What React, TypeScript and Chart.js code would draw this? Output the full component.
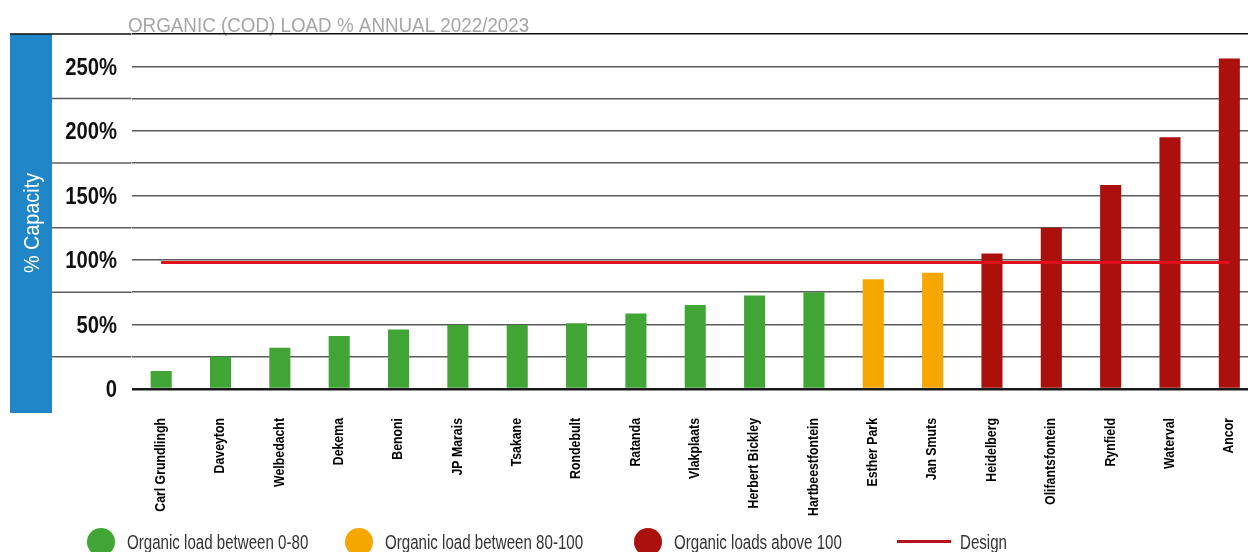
import React, { useEffect, useRef } from "react";
import { Chart, registerables } from "chart.js";

Chart.register(...registerables);

const TITLE = "ORGANIC (COD) LOAD % ANNUAL 2022/2023";
const AXIS_TITLE = "% Capacity";

const CATEGORIES = [
  "Carl Grundlingh",
  "Daveyton",
  "Welbedacht",
  "Dekema",
  "Benoni",
  "JP Marais",
  "Tsakane",
  "Rondebult",
  "Ratanda",
  "Vlakplaats",
  "Herbert Bickley",
  "Hartbeestfontein",
  "Esther Park",
  "Jan Smuts",
  "Heidelberg",
  "Olifantsfontein",
  "Rynfield",
  "Waterval",
  "Ancor",
];

const LOAD_PERCENT = [14, 25, 32, 41, 46, 49.5, 49.5, 51, 58.5, 65, 72.5, 75, 85, 90, 105, 125, 158, 195, 256];

const DESIGN_PERCENT = [98, 98, 98, 98, 98, 98, 98, 98, 98, 98, 98, 98, 98, 98, 98, 98, 98, 98, 98];

const Y_MIN = 0;
const Y_MAX = 275;
const Y_STEP = 25;
const Y_LABELLED = [0, 50, 100, 150, 200, 250];

const LEGEND_LABELS = [
  "Organic load between 0-80",
  "Organic load between 80-100",
  "Organic loads above 100",
  "Design",
];

const GREEN = "#40a535";
const ORANGE = "#f5a700";
const RED = "#ab100c";
const DESIGN_RED = "#e0101c";
const BLUE = "#2186c8";

const FONT = "'Liberation Sans', Arial, 'Helvetica', sans-serif";

function barColor(v: number): string {
  if (v > 100) return RED;
  if (v >= 80) return ORANGE;
  return GREEN;
}

function squeezedText(
  ctx: CanvasRenderingContext2D,
  text: string,
  x: number,
  y: number,
  sx: number,
  align: CanvasTextAlign,
  rotate = 0
) {
  ctx.save();
  ctx.translate(x, y);
  if (rotate) ctx.rotate(rotate);
  ctx.scale(sx, 1);
  ctx.textAlign = align;
  ctx.fillText(text, 0, 0);
  ctx.restore();
}

const decorPlugin = {
  id: "decor",
  beforeDraw(chart: any) {
    const { ctx, chartArea } = chart;
    const y = chart.scales.y;
    ctx.save();
    // blue side box
    const top = y.getPixelForValue(Y_MAX);
    const bottom = chartArea.bottom + 24;
    ctx.fillStyle = BLUE;
    ctx.fillRect(10, top, 42, bottom - top);
    // axis title in box
    ctx.fillStyle = "#ffffff";
    ctx.font = `22px ${FONT}`;
    ctx.textBaseline = "middle";
    squeezedText(ctx, AXIS_TITLE, 33, 223, 0.9, "center", -Math.PI / 2);

    // gridline extensions to the left
    for (let v = Y_MIN + Y_STEP; v <= Y_MAX; v += Y_STEP) {
      if (Y_LABELLED.includes(v)) continue;
      const py = y.getPixelForValue(v);
      ctx.beginPath();
      ctx.strokeStyle = v === Y_MAX ? "#111111" : "#5c5c5c";
      ctx.lineWidth = 1.5;
      ctx.moveTo(v === Y_MAX ? 10 : 52, py);
      ctx.lineTo(chartArea.left, py);
      ctx.stroke();
    }
    // title
    ctx.fillStyle = "#a6a6a6";
    ctx.font = `20px ${FONT}`;
    ctx.textBaseline = "alphabetic";
    squeezedText(ctx, TITLE, 128, 32, 0.94, "left");
    ctx.restore();
  },
  afterDraw(chart: any) {
    const { ctx, chartArea } = chart;
    const x = chart.scales.x;
    const y = chart.scales.y;
    ctx.save();
    // y tick labels
    ctx.fillStyle = "#111111";
    ctx.font = `bold 23px ${FONT}`;
    ctx.textBaseline = "alphabetic";
    Y_LABELLED.forEach((v) => {
      const py = y.getPixelForValue(v);
      squeezedText(ctx, v === 0 ? "0" : `${v}%`, 117, py + 8.3, 0.88, "right");
    });
    // x category labels, rotated
    ctx.fillStyle = "#000000";
    ctx.font = `bold 14px ${FONT}`;
    ctx.textBaseline = "middle";
    CATEGORIES.forEach((label, i) => {
      const px = x.getPixelForValue(i);
      squeezedText(ctx, label, px, chartArea.bottom + 29, 0.88, "right", -Math.PI / 2);
    });
    ctx.restore();
  },
};

function App() {
  const canvasRef = useRef<HTMLCanvasElement | null>(null);

  useEffect(() => {
    const canvas = canvasRef.current;
    if (!canvas) return;
    const chart = new Chart(canvas, {
      type: "bar",
      data: {
        labels: CATEGORIES,
        datasets: [
          {
            type: "line",
            label: LEGEND_LABELS[3],
            data: DESIGN_PERCENT,
            borderColor: DESIGN_RED,
            borderWidth: 3,
            pointRadius: 0,
            pointHoverRadius: 0,
            fill: false,
            order: 0,
          } as any,
          {
            type: "bar",
            label: "Organic load",
            data: LOAD_PERCENT,
            backgroundColor: (c: any) => barColor(c.raw as number),
            barPercentage: 0.355,
            categoryPercentage: 1,
            order: 1,
          },
        ],
      },
      options: {
        responsive: false,
        animation: false,
        devicePixelRatio: 1,
        layout: { padding: { top: 34, right: 11, left: 0, bottom: 0 } },
        plugins: {
          legend: { display: false },
          title: { display: false },
          tooltip: { enabled: false },
        },
        scales: {
          x: {
            grid: { display: false },
            border: { display: false },
            ticks: { display: false, autoSkip: false },
            afterFit: (scale: any) => {
              scale.height = 163;
            },
          },
          y: {
            min: Y_MIN,
            max: Y_MAX,
            border: { display: false },
            grid: {
              drawTicks: false,
              color: (c: any) => {
                const v = c.tick ? c.tick.value : 0;
                if (v === 0) return "#1a1a1a";
                if (v === Y_MAX) return "#111111";
                return "#5c5c5c";
              },
              lineWidth: (c: any) => {
                const v = c.tick ? c.tick.value : 0;
                return v === 0 ? 2.5 : 1.5;
              },
            },
            ticks: { display: false, stepSize: Y_STEP },
            afterFit: (scale: any) => {
              scale.width = 131.5;
            },
          },
        },
      },
      plugins: [decorPlugin],
    });
    return () => chart.destroy();
  }, []);

  const legendText: React.CSSProperties = {
    position: "absolute",
    top: 531,
    fontFamily: FONT,
    fontSize: 20,
    color: "#333333",
    lineHeight: "22px",
    whiteSpace: "nowrap",
    transform: "scaleX(0.755)",
    transformOrigin: "left center",
  };
  const dot = (color: string, left: number): React.CSSProperties => ({
    position: "absolute",
    left,
    top: 528,
    width: 28,
    height: 28,
    borderRadius: "50%",
    background: color,
  });

  return (
    <div
      style={{
        position: "absolute",
        left: 0,
        top: 0,
        width: 1248,
        height: 552,
        overflow: "hidden",
        background: "#ffffff",
      }}
    >
      <canvas ref={canvasRef} width={1270} height={552} style={{ display: "block" }} />
      <div style={dot(GREEN, 87)} />
      <div style={{ ...legendText, left: 127 }}>{LEGEND_LABELS[0]}</div>
      <div style={dot(ORANGE, 345)} />
      <div style={{ ...legendText, left: 385 }}>{LEGEND_LABELS[1]}</div>
      <div style={dot(RED, 634)} />
      <div style={{ ...legendText, left: 674 }}>{LEGEND_LABELS[2]}</div>
      <div
        style={{
          position: "absolute",
          left: 897,
          top: 540,
          width: 54,
          height: 3,
          background: "#b5141a",
        }}
      />
      <div style={{ ...legendText, left: 960 }}>{LEGEND_LABELS[3]}</div>
    </div>
  );
}

export default App;
